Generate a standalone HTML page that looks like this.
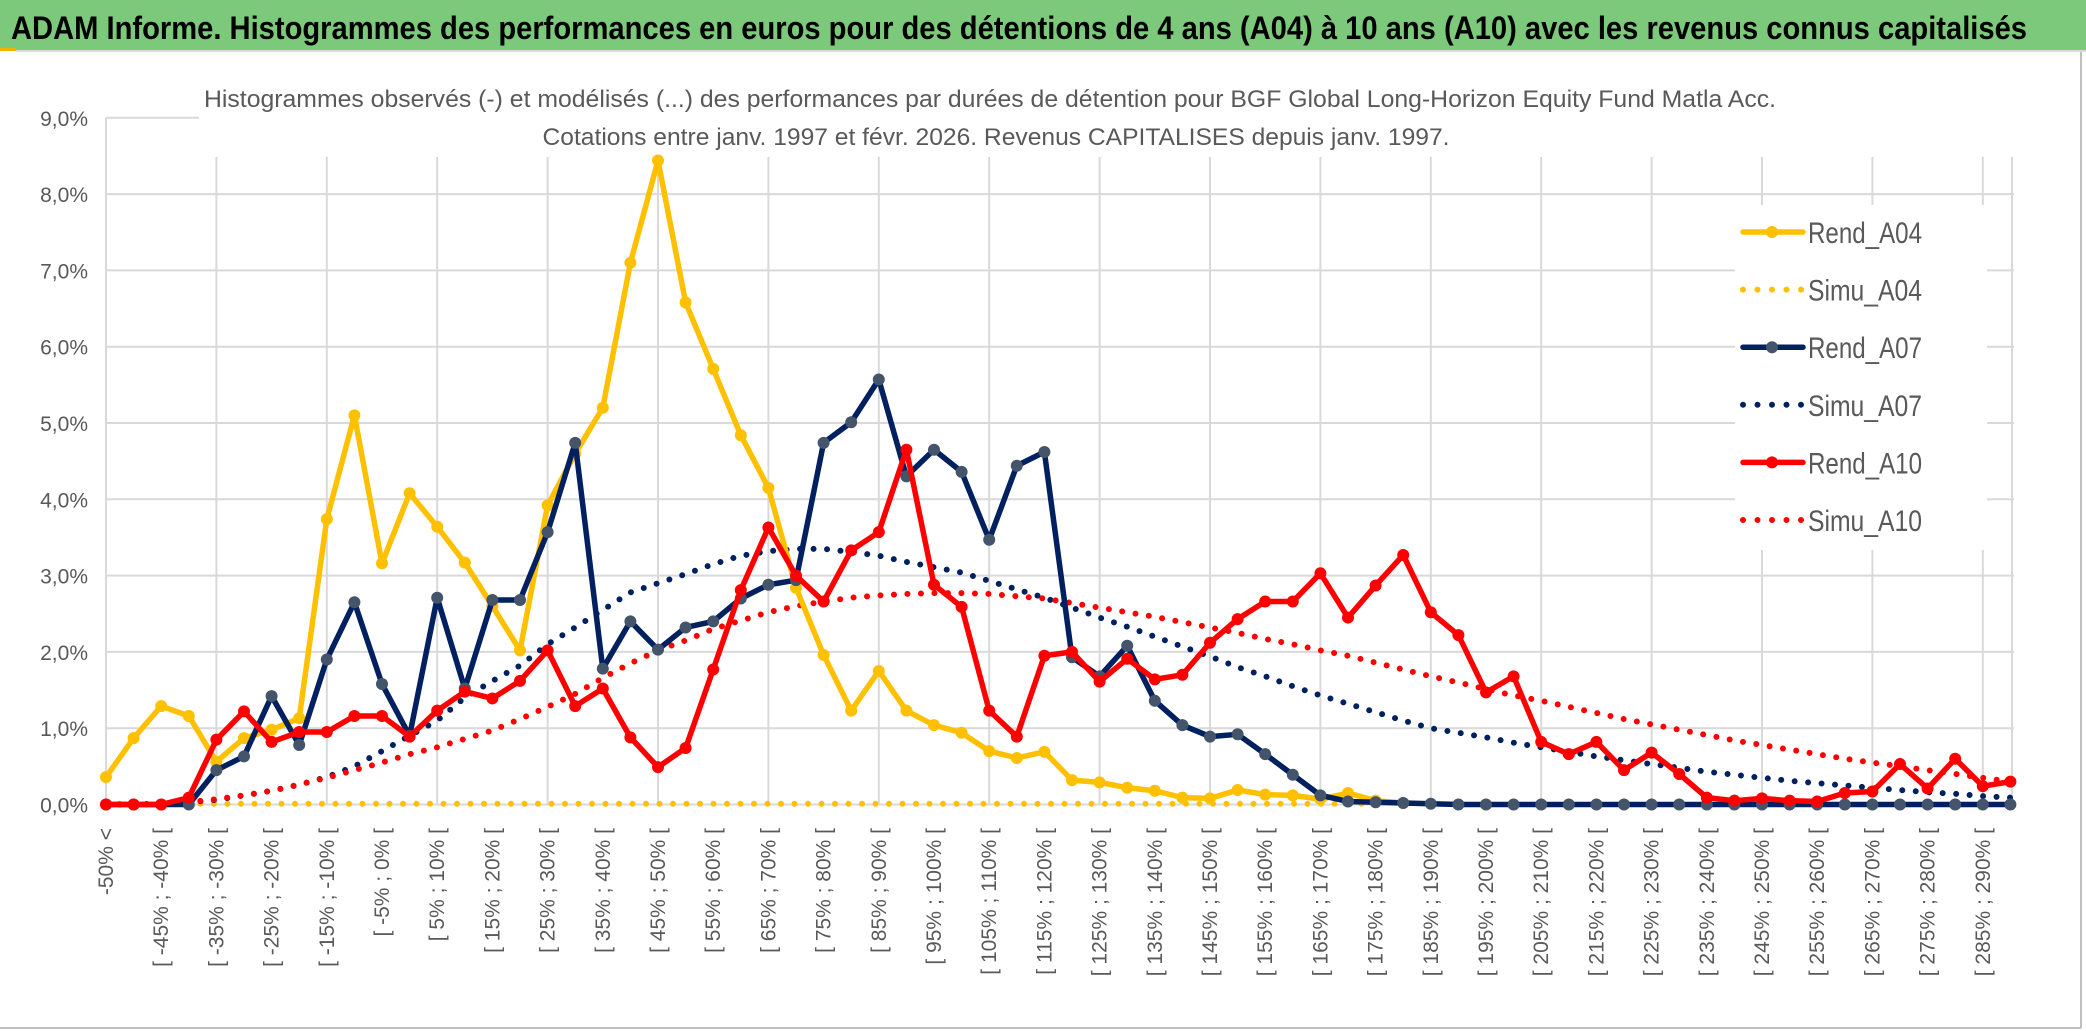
<!DOCTYPE html>
<html><head><meta charset="utf-8"><style>
html,body{margin:0;padding:0;background:#fff;}
svg{display:block;font-family:"Liberation Sans",sans-serif;}
</style></head><body>
<svg id="chart" width="2086" height="1031" viewBox="0 0 2086 1031" xmlns="http://www.w3.org/2000/svg">
<rect x="0" y="0" width="2086" height="1031" fill="#fff"/>
<rect x="0" y="0" width="2086" height="50" fill="#7dc97b"/>
<rect x="0" y="48" width="16" height="3" fill="#f0b400"/>
<rect x="16" y="50" width="2070" height="2" fill="#d9d9d9"/>
<text x="11" y="39" font-size="32" font-weight="bold" fill="#000" textLength="2016" lengthAdjust="spacingAndGlyphs">ADAM Informe. Histogrammes des performances en euros pour des détentions de 4 ans (A04) à 10 ans (A10) avec les revenus connus capitalisés</text>
<line x1="2081" y1="52" x2="2081" y2="1028" stroke="#bfbfbf" stroke-width="2"/>
<line x1="0" y1="1028" x2="2081" y2="1028" stroke="#bfbfbf" stroke-width="2"/>
<g id="grid"></g>
<g id="yticks"></g>
<g id="xlabels"></g>
<rect x="199" y="80" width="1830" height="76" fill="#fff"/>
<text x="990" y="107" font-size="24" fill="#595959" text-anchor="middle" textLength="1572" lengthAdjust="spacingAndGlyphs">Histogrammes observés (-) et modélisés (...) des performances par durées de détention pour BGF Global Long-Horizon Equity Fund Matla Acc.</text>
<text x="996" y="145" font-size="24" fill="#595959" text-anchor="middle" textLength="907" lengthAdjust="spacingAndGlyphs">Cotations entre janv. 1997 et févr. 2026. Revenus CAPITALISES depuis janv. 1997.</text>
<g id="series"></g>
<g id="legend"></g>
</svg>
<script>
const categories = [];
categories.push('-50% <');
for (let k = -50; k < 295; k += 5) categories.push('[ ' + k + '% ; ' + (k + 5) + '% [');

const rendA04 = [0.36,0.87,1.29,1.16,0.56,0.87,0.98,1.13,3.74,5.1,3.16,4.08,3.64,3.17,2.6,2.02,3.92,4.6,5.2,7.1,8.44,6.58,5.71,4.84,4.15,2.84,1.96,1.23,1.75,1.23,1.04,0.94,0.7,0.61,0.69,0.32,0.29,0.22,0.18,0.09,0.08,0.19,0.13,0.12,0.07,0.15,0.05,0.02];
const simuA04 = [0.01,0.01,0.01,0.01,0.01,0.01,0.01,0.01,0.01,0.01,0.01,0.01,0.01,0.01,0.01,0.01,0.01,0.01,0.01,0.01,0.01,0.01,0.01,0.01,0.01,0.01,0.01,0.01,0.01,0.01,0.01,0.01,0.01,0.01,0.01,0.01,0.01,0.01,0.01,0.01,0.01,0.01,0.01,0.01,0.01,0.01,0.01];
const rendA07 = [0,0,0,0,0.45,0.63,1.42,0.78,1.9,2.65,1.58,0.9,2.71,1.52,2.68,2.68,3.57,4.74,1.78,2.4,2.03,2.32,2.4,2.7,2.88,2.94,4.74,5.01,5.57,4.3,4.65,4.36,3.47,4.44,4.62,1.93,1.68,2.08,1.36,1.04,0.89,0.92,0.66,0.39,0.12,0.04,0.03,0.02,0.01,0,0,0,0,0,0,0,0,0,0,0,0,0,0,0,0,0,0,0,0,0];
const simuA07 = [0,0,0.01,0.03,0.06,0.12,0.18,0.26,0.36,0.5,0.7,0.9,1.1,1.4,1.62,1.82,2.1,2.32,2.55,2.78,2.9,3.02,3.15,3.26,3.32,3.35,3.35,3.31,3.26,3.18,3.11,3.04,2.93,2.82,2.71,2.58,2.45,2.33,2.2,2.07,1.94,1.8,1.68,1.55,1.43,1.32,1.21,1.1,1.0,0.94,0.88,0.81,0.75,0.69,0.63,0.58,0.53,0.48,0.43,0.39,0.35,0.31,0.28,0.25,0.22,0.19,0.16,0.14,0.11,0.09];
const rendA10 = [0,0,0,0.09,0.85,1.22,0.82,0.95,0.95,1.16,1.16,0.89,1.23,1.48,1.39,1.62,2.02,1.29,1.52,0.88,0.49,0.74,1.77,2.81,3.63,3.0,2.66,3.33,3.57,4.65,2.88,2.59,1.23,0.89,1.95,2.0,1.61,1.91,1.64,1.7,2.12,2.43,2.66,2.66,3.03,2.45,2.87,3.27,2.52,2.22,1.47,1.68,0.82,0.66,0.82,0.45,0.68,0.4,0.09,0.05,0.08,0.05,0.04,0.15,0.17,0.53,0.21,0.6,0.24,0.3];
const simuA10 = [0,0,0,0.03,0.07,0.12,0.18,0.26,0.35,0.45,0.55,0.66,0.75,0.86,0.97,1.12,1.28,1.45,1.66,1.85,2.02,2.15,2.3,2.41,2.52,2.6,2.66,2.71,2.74,2.76,2.77,2.77,2.76,2.73,2.7,2.64,2.58,2.52,2.46,2.39,2.32,2.25,2.17,2.1,2.02,1.95,1.86,1.77,1.68,1.6,1.51,1.43,1.36,1.28,1.2,1.12,1.05,0.98,0.91,0.84,0.78,0.72,0.66,0.6,0.55,0.5,0.45,0.4,0.35,0.3];
const yTicks = [0,1,2,3,4,5,6,7,8,9];

const NS = 'http://www.w3.org/2000/svg';
const X0 = 106, STEP = 27.6, Y0 = 804.5, YPER = 76.3;
function xs(i){ return X0 + i * STEP; }
function ys(v){ return Y0 - v * YPER; }
function mk(tag, attrs, parent){
  const e = document.createElementNS(NS, tag);
  for (const k in attrs) e.setAttribute(k, attrs[k]);
  parent.appendChild(e); return e;
}
const grid = document.getElementById('grid');
yTicks.forEach(t => {
  const l = mk('line', {x1: X0, x2: 2014, y1: ys(t), y2: ys(t), stroke: '#d9d9d9', 'stroke-width': 2}, grid);
  
  
});
for (let i = 4; i < categories.length; i += 4) {
  const l = mk('line', {x1: xs(i), x2: xs(i), y1: 157, y2: Y0, stroke: '#d9d9d9', 'stroke-width': 2}, grid);
  
  
}
mk('line', {x1: X0, x2: X0, y1: ys(9), y2: Y0, stroke: '#d9d9d9', 'stroke-width': 2}, grid);
mk('line', {x1: 2012, x2: 2012, y1: 157, y2: Y0, stroke: '#d9d9d9', 'stroke-width': 2}, grid);
const yt = document.getElementById('yticks');
yTicks.forEach(t => {
  const tx = mk('text', {x: 88, y: ys(t) + 8, 'font-size': 21, fill: '#595959', 'text-anchor': 'end'}, yt);
  tx.textContent = t.toFixed(1).replace('.', ',') + '%';
  
  
});
const xl = document.getElementById('xlabels');
categories.forEach((c, i) => {
  if (i % 2 !== 0) return;
  const tx = mk('text', {x: 0, y: 0, 'font-size': 21, fill: '#595959', 'text-anchor': 'end', transform: 'translate(' + (xs(i) + 7) + ',828) rotate(-90)'}, xl);
  tx.textContent = c;
  
  
});
const sg = document.getElementById('series');
function pts(arr){ return arr.map((v, i) => xs(i) + ',' + ys(v)).join(' '); }
function dotted(arr, color, name){
  const p = mk('polyline', {points: pts(arr), fill: 'none', stroke: color, 'stroke-width': 6, 'stroke-linecap': 'round', 'stroke-dasharray': '0 13.5'}, sg);
  
  
}
function solid(arr, color, mcolor, name){
  const p = mk('polyline', {points: pts(arr), fill: 'none', stroke: color, 'stroke-width': 5.5, 'stroke-linejoin': 'round'}, sg);
  
  
  arr.forEach((v, i) => {
    const c = mk('circle', {cx: xs(i), cy: ys(v), r: 6, fill: mcolor}, sg);
    
    
  });
}
dotted(simuA04, '#ffc000', 'simu-a04-line');
dotted(simuA07, '#002060', 'simu-a07-line');
dotted(simuA10, '#ff0000', 'simu-a10-line');
solid(rendA04, '#ffc000', '#ffc000', 'rend-a04-line');
solid(rendA07, '#002060', '#44546a', 'rend-a07-line');
solid(rendA10, '#ff0000', '#ff0000', 'rend-a10-line');

const lg = document.getElementById('legend');
const bg = mk('rect', {x: 1735, y: 205, width: 252, height: 345, fill: '#fff'}, lg);


const entries = [
  ['Rend_A04', '#ffc000', '#ffc000', false],
  ['Simu_A04', '#ffc000', null, true],
  ['Rend_A07', '#002060', '#44546a', false],
  ['Simu_A07', '#002060', null, true],
  ['Rend_A10', '#ff0000', '#ff0000', false],
  ['Simu_A10', '#ff0000', null, true]
];
entries.forEach((e, k) => {
  const y = 232 + k * 57.6;
  const g = mk('g', {}, lg);
  
  
  if (e[3]) {
    mk('line', {x1: 1743, x2: 1802, y1: y, y2: y, stroke: e[1], 'stroke-width': 6, 'stroke-linecap': 'round', 'stroke-dasharray': '0 14.5'}, g);
  } else {
    mk('line', {x1: 1743, x2: 1803, y1: y, y2: y, stroke: e[1], 'stroke-width': 5.5, 'stroke-linecap': 'round'}, g);
    mk('circle', {cx: 1772, cy: y, r: 6, fill: e[2]}, g);
  }
  const t = mk('text', {x: 1808, y: y + 11, 'font-size': 30, fill: '#595959', textLength: 114, lengthAdjust: 'spacingAndGlyphs'}, g);
  t.textContent = e[0];
});
</script>
</body></html>
